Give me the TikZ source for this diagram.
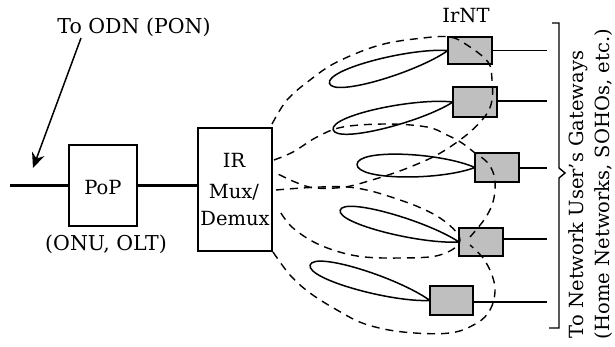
\documentclass[tikz,border=0pt]{standalone}
\usepackage{fontspec}
\setmainfont{DejaVu Serif}
\usetikzlibrary{arrows.meta}
\newcommand\irlobe[4]{%
  \begin{scope}[shift={#1},rotate=#2]
    \draw[lobe] (0,0) .. controls (0.3*#3,1.3*#4) and (#3,1.45*#4) .. (#3,0)
                      .. controls (#3,-1.45*#4) and (0.3*#3,-1.3*#4) .. (0,0);
  \end{scope}}
\tikzset{
  every node/.style={inner sep=0pt,outer sep=0pt},
  lbl/.style={font=\fontsize{19.5}{22}\selectfont},
  wbox/.style={draw,line width=1.4pt,fill=white},
  ntbox/.style={draw,line width=1.5pt,fill=black!25,minimum width=44pt},
  trunk/.style={line width=2.8pt},
  thin/.style={line width=1.3pt},
  lobe/.style={line width=1.5pt},
  beam/.style={line width=1.4pt,dash pattern=on 8pt off 6pt},
  thickedge/.style={line width=2.8pt}
}
\begin{document}
\begin{tikzpicture}[x=1pt,y=1pt]
\useasboundingbox (0,0) rectangle (615,-347);
% labels
\node[lbl,font=\fontsize{20.5}{24}\selectfont] (odn) at (134,-27) {To ODN (PON)};
\node[lbl] (irnt) at (466,-16) {IrNT};
% PoP and Mux
\node[wbox,minimum width=68pt,minimum height=81pt] (pop) at (103,-185.5) {};
\node[lbl] (poptxt) at (103,-188) {PoP};
\node[lbl,font=\fontsize{20.5}{24}\selectfont] (onu) at (106,-244) {(ONU, OLT)};
\node[wbox,minimum width=74pt,minimum height=123pt] (mux) at (235,-189.5) {};
\node[lbl] (ir) at (234,-160) {IR};
\node[lbl] (muxt) at (234,-192) {Mux/};
\node[lbl] (demux) at (235,-219) {Demux};
\coordinate (in) at (10,-185.5);
\draw[trunk] (in) -- (pop.west);
\draw[trunk] (pop.east) -- (mux.west |- pop.east);
\coordinate (arrowtail) at (81,-38);
\coordinate (arrowhead) at (33,-168);
\draw[line width=1.5pt,-{Stealth[length=15pt,width=13pt]}] (arrowtail) -- (arrowhead);
% IrNT boxes
\node[ntbox,minimum height=27pt] (nt1) at (470,-50.5) {};
\node[ntbox,minimum height=30pt] (nt2) at (475,-102) {};
\node[ntbox,minimum height=29pt] (nt3) at (497,-167.5) {};
\node[ntbox,minimum height=28pt] (nt4) at (481,-242) {};
\node[ntbox,minimum width=43pt,minimum height=29pt] (nt5) at (451.5,-300.5) {};
\draw[thickedge] (nt2.north west) -- (nt2.north east);
\draw[thickedge] (nt3.north west) -- (nt3.south west);
\draw[thickedge] (nt5.north west) -- (nt5.north east);
% outputs
\coordinate (g1) at (547,-50.5);
\coordinate (g2) at (547,-101);
\coordinate (g3) at (547,-168);
\coordinate (g4) at (547,-239);
\coordinate (g5) at (547,-302);
\draw[thin] (nt1.east) -- (g1);
\draw[thin] (nt2.east |- g2) -- (g2);
\draw[thin] (nt3.east |- g3) -- (g3);
\draw[thin] (nt4.east |- g4) -- (g4);
\draw[thin] (nt5.east |- g5) -- (g5);
% solid IrNT lobes
\irlobe{(nt1.west)}{195.5}{123}{10}
\irlobe{(nt2.west)}{193}{123}{10}
\irlobe{(nt3.west)}{178.5}{118}{11}
\irlobe{(nt4.west)}{165}{123}{9.5}
\irlobe{(nt5.west)}{163.5}{125}{10}
% dashed Mux beams
\draw[beam] plot[smooth,tension=0.6] coordinates {(272,-124) (287,-100) (310,-80) (337,-62) (380,-45) (423,-38) (450,-37) (467,-45) (488,-62) (492,-80) (492,-100) (486,-115) (470,-132) (450,-147) (433,-157) (415,-165) (397,-172) (372,-180) (345,-187) (315,-188) (295,-182) (274,-172)};
\draw[beam] plot[smooth,tension=0.6] coordinates {(274,-160) (293,-152) (317,-137) (343,-127) (387,-124) (427,-127) (447,-135) (462,-143) (475,-153) (487,-162) (494,-175) (495,-190) (492,-205) (484,-220) (470,-237)};
\draw[beam] plot[smooth,tension=0.6] coordinates {(276,-190) (347,-187) (400,-200) (440,-218) (460,-240) (440,-255) (400,-258) (357,-256) (320,-245) (293,-228) (279,-210)};
\draw[beam] plot[smooth,tension=0.6] coordinates {(273,-252) (290,-275) (310,-293) (337,-310) (365,-324) (403,-332) (450,-333) (477,-323) (490,-310) (495,-292) (492,-275) (483,-258) (470,-245)};
% bracket
\coordinate (bt) at (552,-23);
\coordinate (bb) at (549,-328);
\draw[line width=1.4pt] (bt) -- (559,-23) -- (559,-168) -- (565,-173) -- (559,-178) -- (559,-328) -- (bb);
\node[lbl,rotate=90,anchor=west] (gw1) at (578,-338) {To Network User's Gateways};
\node[lbl,rotate=90,anchor=west] (gw2) at (604,-339) {(Home Networks, SOHOs, etc.)};
\end{tikzpicture}
\end{document}
